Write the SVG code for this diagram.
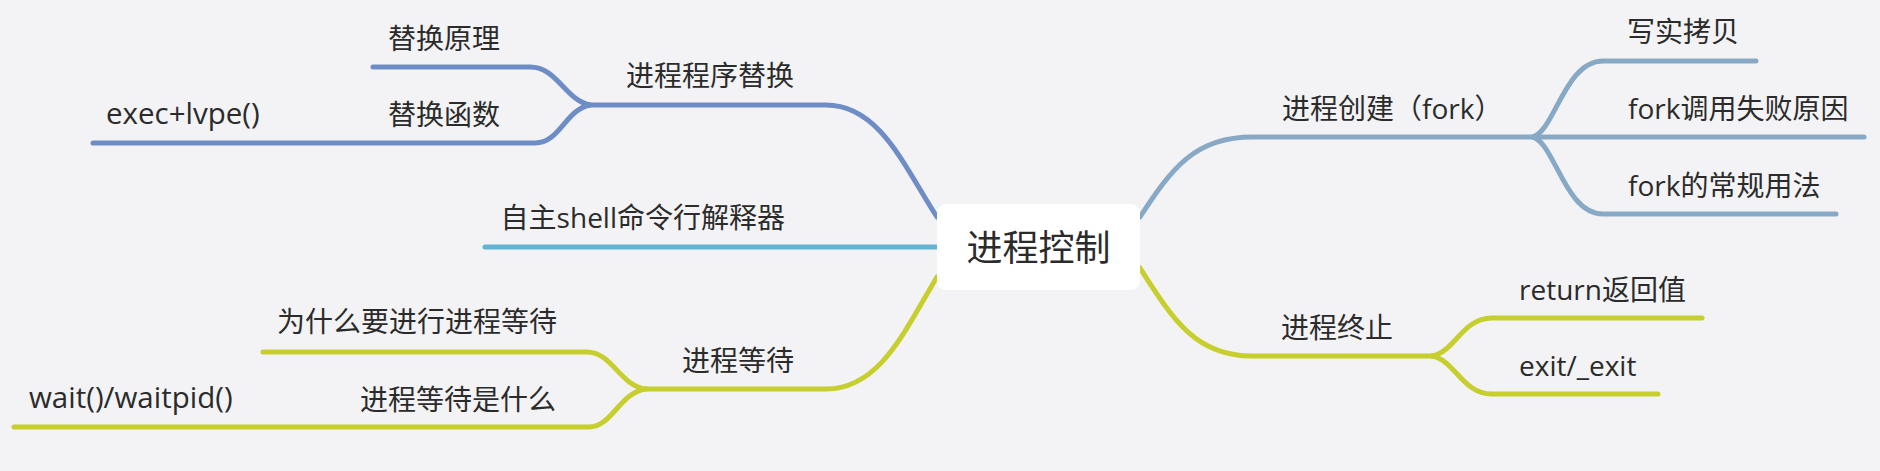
<svg xmlns="http://www.w3.org/2000/svg" width="1880" height="471" viewBox="0 0 1880 471">
<style>
.bg{fill:#f3f3f5}
.ln{fill:none;stroke-width:5;stroke-linecap:round;stroke-linejoin:round}
.b1{stroke:#6e8dc6}
.b2{stroke:#63b3d3}
.b3{stroke:#88a9c5}
.b4{stroke:#c6cf2e}
.t{font-family:"Open Sans","Noto Sans CJK SC",sans-serif;font-size:28px;fill:#2b2b2b}
.l{font-size:29.5px}
.e{text-anchor:end}
.c{font-family:"Open Sans","Noto Sans CJK SC",sans-serif;font-size:36px;fill:#2b2b2b;text-anchor:middle}
</style>
<rect class="bg" x="0" y="0" width="1880" height="471"/>
<g id="connectors">
  <path class="ln b1" d="M937 217 C905 168 880 105 826 105 L590 105"/>
  <path class="ln b1" d="M590 105 C565 100 557 67 530 67 L373 67"/>
  <path class="ln b1" d="M590 105 C565 110 560 143 535 143 L93 143"/>
  <path class="ln b2" d="M937 247 L485 247"/>
  <path class="ln b3" d="M1140 217 C1172 168 1195 137 1252 137 L1533 137"/>
  <path class="ln b3" d="M1533 137 C1555 130 1565 61 1603 61 L1756 61"/>
  <path class="ln b3" d="M1533 137 L1864 137"/>
  <path class="ln b3" d="M1533 137 C1555 144 1565 214 1603 214 L1836 214"/>
  <path class="ln b4" d="M1140 268 C1172 318 1195 356 1252 356 L1432 356"/>
  <path class="ln b4" d="M1432 356 C1455 352 1462 318 1492 318 L1702 318"/>
  <path class="ln b4" d="M1432 356 C1455 360 1462 394 1492 394 L1658 394"/>
  <path class="ln b4" d="M937 277 C905 330 880 389 826 389 L646 389"/>
  <path class="ln b4" d="M646 389 C620 386 612 352 587 352 L263 352"/>
  <path class="ln b4" d="M646 389 C620 392 612 427 589 427 L14 427"/>
</g>
<g id="root">
  <rect x="937" y="204" width="203" height="86" rx="9" fill="#ffffff"/>
  <text class="c" x="1038.5" y="261">进程控制</text>
</g>
<g id="n-replace"><text class="t e" x="794" y="86">进程程序替换</text></g>
<g id="n-replace-principle"><text class="t e" x="500" y="49">替换原理</text></g>
<g id="n-replace-func"><text class="t e" x="500" y="125">替换函数</text></g>
<g id="n-exec"><text class="t l" x="106" y="124">exec+lvpe()</text></g>
<g id="n-shell"><text class="t e" x="785" y="228">自主shell命令行解释器</text></g>
<g id="n-wait"><text class="t e" x="794" y="371">进程等待</text></g>
<g id="n-wait-why"><text class="t e" x="557" y="332">为什么要进行进程等待</text></g>
<g id="n-wait-what"><text class="t e" x="556" y="410">进程等待是什么</text></g>
<g id="n-waitpid"><text class="t l" x="29" y="408">wait()/waitpid()</text></g>
<g id="n-fork"><text class="t" x="1282" y="119">进程创建（fork）</text></g>
<g id="n-cow"><text class="t" x="1627" y="42">写实拷贝</text></g>
<g id="n-fork-fail"><text class="t" x="1628" y="119">fork调用失败原因</text></g>
<g id="n-fork-use"><text class="t" x="1628" y="196">fork的常规用法</text></g>
<g id="n-exit"><text class="t" x="1281" y="338">进程终止</text></g>
<g id="n-return"><text class="t" x="1519" y="300">return返回值</text></g>
<g id="n-_exit"><text class="t" x="1519" y="376">exit/_exit</text></g>
</svg>
